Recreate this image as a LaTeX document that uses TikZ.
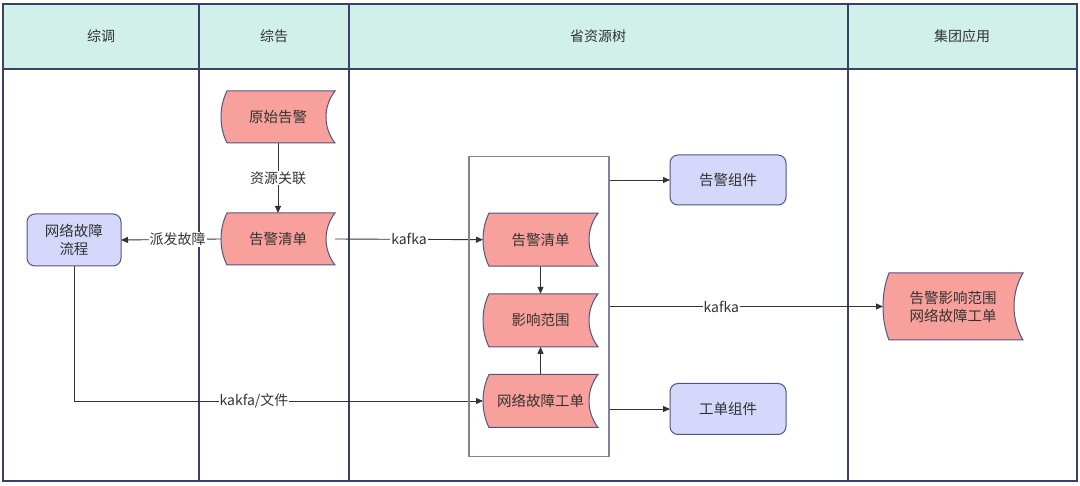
\documentclass[tikz,border=0pt]{standalone}
\usepackage{fontspec}
\setmainfont{Noto Sans CJK SC}
\usetikzlibrary{calc,arrows.meta}
\definecolor{hdr}{HTML}{D0F0E9}
\definecolor{frame}{HTML}{3A4068}
\definecolor{pinkf}{HTML}{F8A09B}
\definecolor{shpline}{HTML}{4F5580}
\definecolor{lav}{HTML}{D5D8FB}
\definecolor{txt}{HTML}{333333}
\definecolor{boxline}{HTML}{7E849C}
\pgfdeclarelayer{tbl}
\pgfdeclarelayer{conn}
\pgfdeclarelayer{shp}
\pgfsetlayers{tbl,conn,shp,main}
\begin{document}
\begin{tikzpicture}[x=1pt,y=-1pt,
  font=\fontsize{14.5}{18}\selectfont, text=txt,
  sd/.style={minimum width=#1, inner sep=0pt, outer sep=0pt, align=center},
  sdline/.style={draw=shpline, fill=pinkf, line width=1pt},
  rbox/.style={draw=shpline, fill=lav, rounded corners=8pt, line width=1pt, minimum width=#1, inner sep=0pt, outer sep=0pt, align=center},
  hdrtext/.style={font=\fontsize{14}{16}\selectfont},
  conn/.style={draw=txt, line width=0.9pt, -{Triangle[length=7pt,width=6pt]}},
  lbl/.style={fill=white, inner sep=1pt, font=\fontsize{14}{16}\selectfont},
  frameline/.style={draw=frame, line width=1.4pt}]
\useasboundingbox (0,0) rectangle (1080,486);

% table
\begin{pgfonlayer}{tbl}
\fill[hdr] (3,4) rectangle (1077,69);
\draw[frameline] (3,4) rectangle (1077,481);
\draw[frameline] (3,69) -- (1077,69);
\draw[frameline] (199,4) -- (199,481);
\draw[frameline] (349,4) -- (349,481);
\draw[frameline] (848,4) -- (848,481);
\end{pgfonlayer}
\node[hdrtext] (h1) at (101,36) {综调};
\node[hdrtext] (h2) at (274,36) {综告};
\node[hdrtext] (h3) at (598,36) {省资源树};
\node[hdrtext] (h4) at (962,36) {集团应用};

% nodes
\node[sd=114, minimum height=52] (src) at (278,117) {原始告警};
\node[sd=114, minimum height=52] (ali1) at (278,239) {告警清单};
\node[rbox=94, minimum height=52] (flow) at (74,240) {网络故障\\流程};
\node[draw=boxline, line width=1.2pt, minimum width=140, minimum height=300, inner sep=0pt, outer sep=0pt] (box) at (539,306.7) {};
\node[sd=115, minimum height=53] (inner1) at (540.5,239.7) {告警清单};
\node[sd=115, minimum height=53] (impact) at (540.5,320.3) {影响范围};
\node[sd=115, minimum height=53] (ticket) at (540.5,401) {网络故障工单};
\node[rbox=116, minimum height=50] (comp1) at (728,180) {告警组件};
\node[rbox=116, minimum height=51] (comp2) at (728,409) {工单组件};
\node[sd=140, minimum height=67] (big) at (953,306.5) {告警影响范围\\网络故障工单};

% stored-data shapes
\begin{pgfonlayer}{shp}
\foreach \n in {src,ali1,inner1,impact,ticket,big}{
  \draw[sdline] ($(\n.north west)+(6,0)$) -- (\n.north east)
    .. controls ($(\n.north east)!0.3!(\n.south east)+(-12,0)$) and ($(\n.north east)!0.7!(\n.south east)+(-12,0)$) .. (\n.south east)
    -- ($(\n.south west)+(6,0)$)
    .. controls ($(\n.south west)!0.3!(\n.north west)+(-2,0)$) and ($(\n.south west)!0.7!(\n.north west)+(-2,0)$) .. ($(\n.north west)+(6,0)$) -- cycle;
}
\end{pgfonlayer}

% connectors
\begin{pgfonlayer}{conn}
\draw[conn] (src.south) -- node[lbl] {资源关联} (ali1.north);
\draw[conn] (ali1.west) -- node[lbl, pos=0.435] {派发故障} (flow.east);
\draw[conn] (ali1.east) -- node[lbl] {kafka} (inner1.west);
\draw[conn] (inner1.south) -- (impact.north);
\draw[conn] (ticket.north) -- (impact.south);
\draw[conn] (box.east |- comp1) -- (comp1.west);
\draw[conn] (box.east |- big) -- node[lbl, pos=0.41] {kafka} (big.west);
\draw[conn] (box.east |- comp2) -- (comp2.west);
\draw[conn] (flow.south) |- node[lbl, pos=0.72] {kakfa/文件} (ticket.west);
\end{pgfonlayer}
\end{tikzpicture}
\end{document}
